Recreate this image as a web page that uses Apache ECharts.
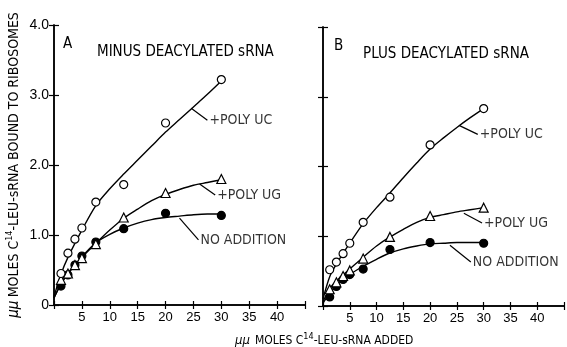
<!DOCTYPE html>
<html><head><meta charset="utf-8">
<script src="https://cdn.jsdelivr.net/npm/echarts@6/dist/echarts.min.js"></script>
<style>html,body{margin:0;padding:0;background:#fff}#c{width:567px;height:347px}</style>
</head><body><div id="c"></div>
<script>
// ---- data ----
const xDose = [1.25, 2.5, 3.75, 5, 7.5, 12.5, 20, 30];
// Panel A: minus deacylated sRNA
const ucA = [0.45, 0.74, 0.94, 1.10, 1.47, 1.72, 2.60, 3.22];
const ugA = [0.36, 0.45, 0.57, 0.67, 0.87, 1.25, 1.60, 1.80];
const noA = [0.27, 0.43, 0.57, 0.70, 0.90, 1.09, 1.31, 1.28];
// Panel B: plus deacylated sRNA
const ucB = [0.52, 0.63, 0.75, 0.90, 1.20, 1.56, 2.31, 2.83];
const ugB = [0.24, 0.34, 0.43, 0.51, 0.68, 0.99, 1.29, 1.41];
const noB = [0.13, 0.28, 0.38, 0.45, 0.53, 0.81, 0.91, 0.90];
// hand-drawn fitted curves at these x positions
const fitX   = [0, 1.25, 2.5, 5, 7.5, 10, 12.5, 15, 17.5, 20, 22.5, 25, 27.5, 30];
const fitUcA = [0.12, 0.44, 0.68, 1.07, 1.42, 1.66, 1.87, 2.07, 2.27, 2.47, 2.65, 2.83, 3.01, 3.20];
const fitUgA = [0.10, 0.30, 0.45, 0.68, 0.88, 1.07, 1.24, 1.37, 1.49, 1.58, 1.65, 1.71, 1.75, 1.79];
const fitNoA = [0.10, 0.30, 0.45, 0.69, 0.89, 1.01, 1.10, 1.17, 1.22, 1.25, 1.27, 1.29, 1.30, 1.30];
const fitUcB = [0.10, 0.42, 0.60, 0.90, 1.18, 1.41, 1.62, 1.84, 2.05, 2.25, 2.41, 2.56, 2.70, 2.83];
const fitUgB = [0.06, 0.25, 0.36, 0.53, 0.70, 0.86, 0.99, 1.10, 1.20, 1.27, 1.31, 1.35, 1.38, 1.41];
const fitNoB = [0.04, 0.18, 0.29, 0.45, 0.57, 0.67, 0.76, 0.82, 0.86, 0.89, 0.90, 0.91, 0.91, 0.91];
// annotations: leader start, leader end, text
const annA = [
  {text:'+POLY UC', from:[24.6,2.81], to:[27.5,2.64]},
  {text:'+POLY UG', from:[26.1,1.73], to:[28.9,1.57]},
  {text:'NO ADDITION', from:[22.5,1.24], to:[25.9,0.93]}
];
const annB = [
  {text:'+POLY UC', from:[25.4,2.59], to:[28.9,2.46]},
  {text:'+POLY UG', from:[26.3,1.33], to:[29.7,1.19]},
  {text:'NO ADDITION', from:[23.7,0.87], to:[27.6,0.63]}
];
const xTicks = [5,10,15,20,25,30,35,40];
const yTicks = [0,1,2,3,4];

const NARROW = '"Liberation Sans Narrow","DejaVu Sans Condensed","Liberation Sans",sans-serif';
const SANS = '"Liberation Sans","DejaVu Sans",sans-serif';

const chart = echarts.init(document.getElementById('c'), null, {renderer:'canvas'});

function xAxes(gi, showLabels){
  const base = {gridIndex:gi, type:'value', min:0, max:45, interval:5,
    axisLine:{lineStyle:{color:'#000', width:1.5}},
    axisTick:{inside:true, length:4, lineStyle:{color:'#000', width:1.2}},
    splitLine:{show:false}};
  return [
    Object.assign({}, base, {position:'bottom',
      axisLabel:{show:showLabels, color:'#000', fontFamily:SANS, fontSize:13, margin:6,
        formatter:v => xTicks.includes(v) ? String(v) : ''}}),
    Object.assign({}, base, {position:'top', axisLabel:{show:false}})
  ];
}
const richName = (size) => ({
  mu:{fontStyle:'italic', fontWeight:'normal', fontFamily:NARROW, fontSize:size+1, color:'#000'},
  t:{fontWeight:'normal', fontFamily:NARROW, fontSize:size, color:'#000', lineHeight:18},
  sup:{fontWeight:'normal', fontFamily:NARROW, fontSize:9, color:'#000', verticalAlign:'top', lineHeight:18}
});
function yAxes(gi, showLabels){
  const base = {gridIndex:gi, type:'value', min:0, max:4, interval:1,
    axisLine:{lineStyle:{color:'#000', width:1.5}},
    axisTick:{inside:true, length:5, lineStyle:{color:'#000', width:1.2}},
    splitLine:{show:false}};
  const left = Object.assign({}, base, {position:'left',
    axisLabel:{show:showLabels, color:'#000', fontFamily:SANS, fontSize:14, margin:5,
      formatter:v => yTicks.includes(v) ? (v===0 ? '0' : v.toFixed(1)) : ''}});
  if (showLabels) {
    Object.assign(left, {
      name:'{mu|μμ} {t|MOLES C}{sup|14}{t|-LEU-sRNA BOUND TO RIBOSOMES}',
      nameLocation:'middle', nameGap:31, nameRotate:90,
      nameTextStyle:{fontWeight:'normal', rich:richName(14)}
    });
  }
  return [left, Object.assign({}, base, {position:'right', axisLabel:{show:false}})];
}

const series = [];
function addPanel(gi, xa, ya, uc, ug, no, fits, ann){
  fits.forEach(f => series.push({type:'line', xAxisIndex:xa, yAxisIndex:ya,
    data:fitX.map((x,i)=>[x, f[i]]), smooth:0.3,
    showSymbol:false, symbol:'none', lineStyle:{color:'#000', width:1.4}, z:2, silent:true}));
  const mk = (vals, symbol, fill, size) => ({type:'scatter', xAxisIndex:xa, yAxisIndex:ya,
    data: xDose.map((x,i)=>[x, vals[i]]), symbol, symbolSize:size,
    itemStyle:{color:fill, borderColor:'#000', borderWidth:1.2, opacity:1}, z:5});
  series.push(mk(no, 'circle', '#000', 8));
  series.push(mk(ug, 'triangle', '#fff', 9));
  series.push(mk(uc, 'circle', '#fff', 8));
  ann.forEach(a => {
    series.push({type:'line', xAxisIndex:xa, yAxisIndex:ya, data:[a.from, a.to], showSymbol:false,
      symbol:'none', lineStyle:{color:'#000', width:1.2}, z:3, silent:true});
    series.push({type:'scatter', xAxisIndex:xa, yAxisIndex:ya, data:[a.to], symbolSize:0, z:6,
      label:{show:true, position:'right', distance:2, formatter:a.text, color:'#000',
        fontFamily:NARROW, fontSize:14}});
  });
}
addPanel(0, 0, 0, ucA, ugA, noA, [fitUcA, fitUgA, fitNoA], annA);
addPanel(1, 2, 2, ucB, ugB, noB, [fitUcB, fitUgB, fitNoB], annB);

const titleStyle = (s) => ({fontFamily:NARROW, fontSize:s, fontWeight:'normal', color:'#000'});
chart.setOption({
  animation:false,
  backgroundColor:'#fff',
  grid:[
    {left:54, top:25, width:251, height:280},
    {left:323, top:27, width:251, height:279}
  ],
  xAxis:[...xAxes(0,true), ...xAxes(1,true)],
  yAxis:[...yAxes(0,true), ...yAxes(1,false)],
  title:[
    {text:'A', left:58, top:32, textStyle:titleStyle(15)},
    {text:'MINUS DEACYLATED sRNA', left:92, top:40, textStyle:titleStyle(15)},
    {text:'B', left:329, top:34, textStyle:titleStyle(15)},
    {text:'PLUS DEACYLATED sRNA', left:358, top:42, textStyle:titleStyle(15)},
    {text:'{mu|μμ} {t|MOLES C}{sup|14}{t|-LEU-sRNA ADDED}', left:230, top:327,
      textStyle:{fontWeight:'normal', rich:richName(12)}}
  ],
  series
});
</script></body></html>
